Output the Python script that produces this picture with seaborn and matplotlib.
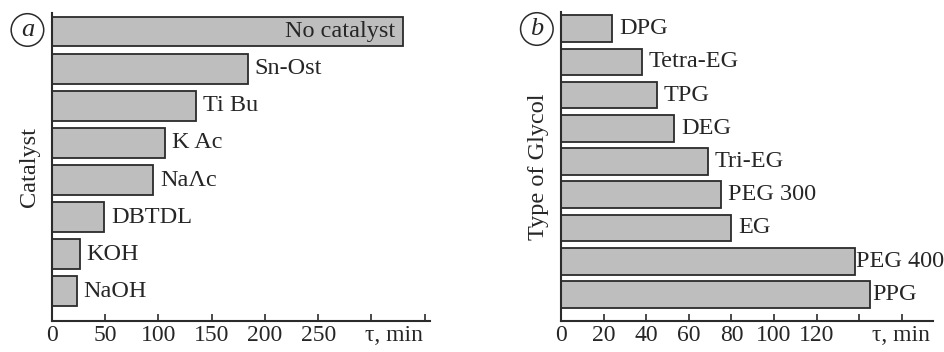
import matplotlib
matplotlib.use("Agg")
import matplotlib.pyplot as plt
import pandas as pd
import seaborn as sns

catalysts = ["No catalyst", "Sn-Ost", "Ti Bu", "K Ac", "NaΛc", "DBTDL", "KOH", "NaOH"]
catalyst_time = [330, 184, 135, 106, 95, 49, 26, 23]

glycols = ["DPG", "Tetra-EG", "TPG", "DEG", "Tri-EG", "PEG 300", "EG", "PEG 400", "PPG"]
glycol_time = [24, 38, 45, 53, 69, 75, 80, 138, 145]

a_ticks = [0, 50, 100, 150, 200, 250, 300, 350]
a_ticklabels = ["0", "50", "100", "150", "200", "250", "", ""]
b_ticks = [0, 20, 40, 60, 80, 100, 120, 140, 160]
b_ticklabels = ["0", "20", "40", "60", "80", "100", "120", "", ""]

sns.set_style("ticks")
plt.rcParams["font.family"] = ["Liberation Serif", "DejaVu Serif"]

BAR_COLOR = "#bebebe"
EDGE = "#2b2b2b"
FS = 17


def draw_panel(ax, names, values, ticks, ticklabels, xmax, ylabel, letter,
               tau_x, inside=None, offsets=None):
    df = pd.DataFrame({"name": names, "tau": values})
    sns.barplot(data=df, x="tau", y="name", orient="h", color=BAR_COLOR,
                edgecolor=EDGE, linewidth=1.3, width=0.8, saturation=1, ax=ax)
    ax.set_xlim(0, xmax)
    ax.set_ylim(len(names) - 0.2, -0.5)
    ax.set_xticks(ticks)
    ax.set_xticklabels(ticklabels, fontsize=FS)
    ax.set_yticks([])
    ax.set_xlabel("")
    ax.set_ylabel(ylabel, fontsize=FS + 0.5, labelpad=9)
    ax.tick_params(axis="x", direction="in", length=5, width=1.2, color=EDGE, pad=3)
    sns.despine(ax=ax)
    for s in ("left", "bottom"):
        ax.spines[s].set_linewidth(1.5)
        ax.spines[s].set_color(EDGE)

    for i, (n, v) in enumerate(zip(names, values)):
        if n == inside:
            ax.annotate(n, (v, i), xytext=(-6, 0), textcoords="offset points",
                        ha="right", va="center", fontsize=FS + 0.5)
        else:
            off = offsets.get(n, 5) if offsets else 5
            ax.annotate(n, (v, i), xytext=(off, 0), textcoords="offset points",
                        ha="left", va="center", fontsize=FS + 0.5)

    ax.annotate("τ, min", (tau_x, 0), xycoords="axes fraction", xytext=(0, -3),
                textcoords="offset points", ha="center", va="top", fontsize=FS)
    ax.text(-0.065, 0.945, letter, transform=ax.transAxes, ha="center", va="center",
            fontsize=FS + 2, style="italic",
            bbox=dict(boxstyle="circle,pad=0.2", fc="white", ec=EDGE, lw=1.1))


fig = plt.figure(figsize=(9.44, 3.52), dpi=100)
ax_a = fig.add_axes([0.0551, 0.0880, 0.4004, 0.8750])
ax_b = fig.add_axes([0.5943, 0.0880, 0.394, 0.8779])

draw_panel(ax_a, catalysts, catalyst_time, a_ticks, a_ticklabels, 355,
           "Catalyst", "a", 0.905, inside="No catalyst")
draw_panel(ax_b, glycols, glycol_time, b_ticks, b_ticklabels, 174.6,
           "Type of Glycol", "b", 0.915, offsets={"PEG 400": 1, "PPG": 2})

fig.savefig("out.png", dpi=100)
